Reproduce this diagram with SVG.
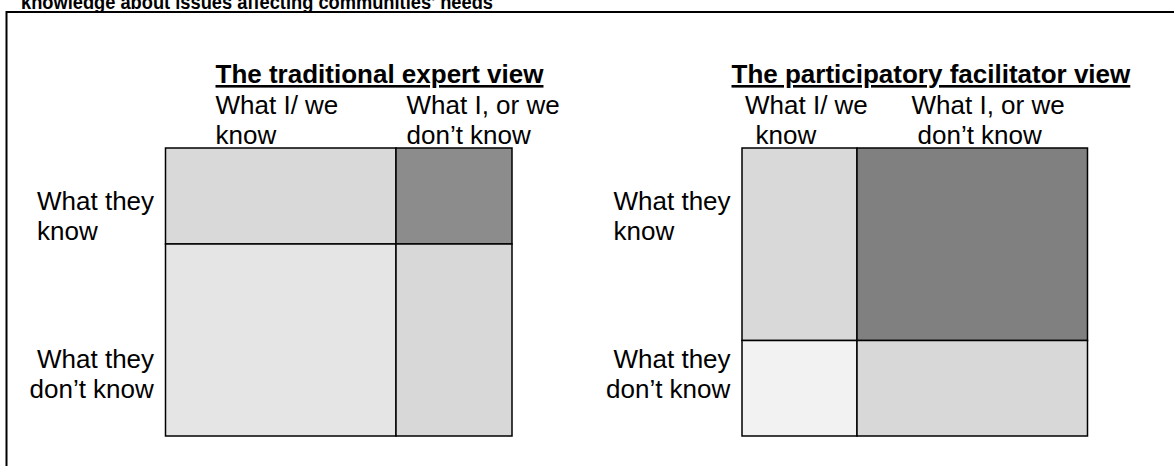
<svg xmlns="http://www.w3.org/2000/svg" width="1174" height="466" viewBox="0 0 1174 466">
<style>
  text { font-family: "Liberation Sans", Arial, sans-serif; fill: #000; }
  .t { font-size: 26px; }
  .h { font-size: 26px; font-weight: bold; text-decoration: underline; }
  .main { font-size: 21px; font-weight: bold; }
  .cell { stroke: #000; stroke-width: 1.5; }
  .frame { fill: none; stroke: #000; stroke-width: 2; }
</style>
<rect width="1174" height="466" fill="#fff"/>
<g id="title">
  <text class="main" x="21" y="9" textLength="472" lengthAdjust="spacingAndGlyphs">knowledge about issues affecting communities’ needs</text>
</g>
<path class="frame" d="M6.5,466 V12 H1174"/>

<g id="expert-view">
  <text class="h" x="215.5" y="83">The traditional expert view</text>
  <g id="expert-col-labels">
    <text class="t" x="215.5" y="114">What I/ we</text>
    <text class="t" x="215.5" y="144">know</text>
    <text class="t" x="406.5" y="114">What I, or we</text>
    <text class="t" x="406.5" y="144">don’t know</text>
  </g>
  <g id="expert-row-labels">
    <text class="t" x="37" y="210">What they</text>
    <text class="t" x="37" y="240">know</text>
    <text class="t" x="37" y="368">What they</text>
    <text class="t" x="29.5" y="398">don’t know</text>
  </g>
  <g id="expert-tl"><rect class="cell" x="165.5" y="148" width="230.5" height="96" fill="#d9d9d9"/></g>
  <g id="expert-tr"><rect class="cell" x="396" y="148" width="116" height="96" fill="#8c8c8c"/></g>
  <g id="expert-bl"><rect class="cell" x="165.5" y="244" width="230.5" height="192" fill="#e5e5e5"/></g>
  <g id="expert-br"><rect class="cell" x="396" y="244" width="116" height="192" fill="#d8d8d8"/></g>
</g>

<g id="facilitator-view">
  <text class="h" x="731.5" y="83">The participatory facilitator view</text>
  <g id="facilitator-col-labels">
    <text class="t" x="745" y="114">What I/ we</text>
    <text class="t" x="755.5" y="144">know</text>
    <text class="t" x="911.5" y="114">What I, or we</text>
    <text class="t" x="917.5" y="144">don’t know</text>
  </g>
  <g id="facilitator-row-labels">
    <text class="t" x="613.5" y="210">What they</text>
    <text class="t" x="613.5" y="240">know</text>
    <text class="t" x="613.5" y="368">What they</text>
    <text class="t" x="606" y="398">don’t know</text>
  </g>
  <g id="facilitator-tl"><rect class="cell" x="742" y="148" width="115" height="192.5" fill="#d9d9d9"/></g>
  <g id="facilitator-tr"><rect class="cell" x="857" y="148" width="230.5" height="192.5" fill="#808080"/></g>
  <g id="facilitator-bl"><rect class="cell" x="742" y="340.5" width="115" height="95.5" fill="#f2f2f2"/></g>
  <g id="facilitator-br"><rect class="cell" x="857" y="340.5" width="230.5" height="95.5" fill="#d8d8d8"/></g>
</g>
</svg>
